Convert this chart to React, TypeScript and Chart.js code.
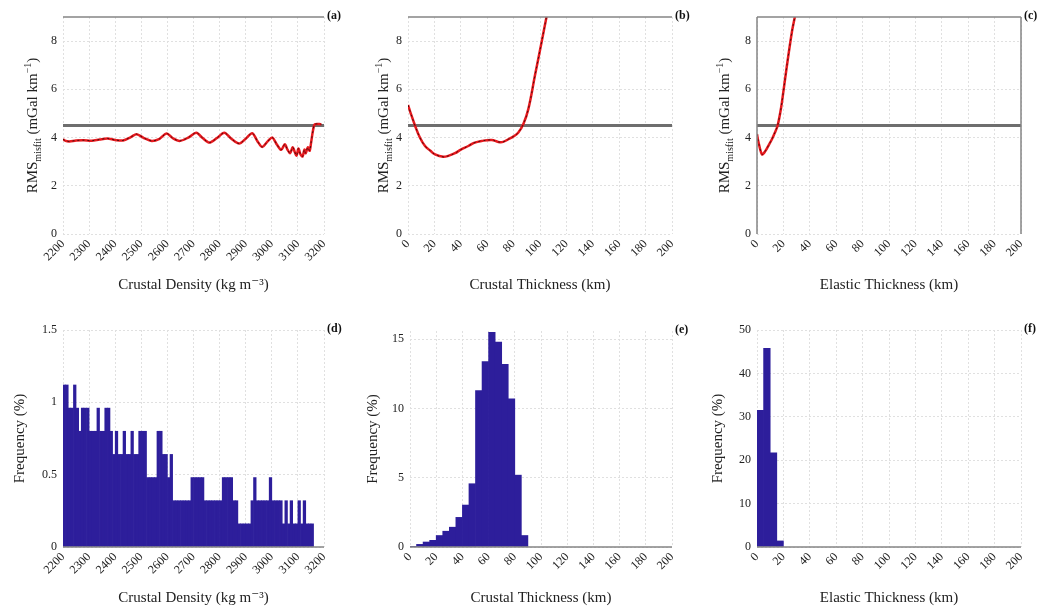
import React, { useEffect, useRef } from 'react';
import { Chart, registerables } from 'chart.js';

Chart.register(...registerables);

const FONT = '"Liberation Serif", "DejaVu Serif", serif';

// ---- tick labels ----
const densityTicks = [2200, 2300, 2400, 2500, 2600, 2700, 2800, 2900, 3000, 3100, 3200];
const thicknessTicks = [0, 20, 40, 60, 80, 100, 120, 140, 160, 180, 200];
const rmsTicks = [0, 2, 4, 6, 8];
const freqTicksD = [0, 0.5, 1, 1.5];
const freqTicksE = [0, 5, 10, 15];
const freqTicksF = [0, 10, 20, 30, 40, 50];

// ---- reference misfit level ----
const refRms = 4.5;

// ---- (a) RMS misfit vs crustal density ----
const densityA = [2200, 2210, 2225, 2250, 2280, 2310, 2340, 2370, 2400, 2430, 2460, 2482, 2510, 2540, 2570, 2597, 2620, 2647, 2680, 2711, 2735, 2761, 2790, 2818, 2845, 2875, 2900, 2925, 2945, 2963, 2985, 3002, 3020, 3036, 3050, 3060, 3070, 3080, 3088, 3095, 3102, 3110, 3118, 3125, 3130, 3138, 3145, 3150, 3158, 3165, 3190];
const rmsA = [3.93, 3.86, 3.84, 3.88, 3.89, 3.87, 3.92, 3.96, 3.9, 3.88, 4.02, 4.14, 3.98, 3.86, 3.95, 4.17, 3.98, 3.86, 4.0, 4.2, 3.98, 3.79, 3.98, 4.2, 3.95, 3.75, 3.95, 4.18, 3.85, 3.61, 3.85, 4.0, 3.7, 3.49, 3.72, 3.5, 3.35, 3.6, 3.4, 3.25, 3.55, 3.3, 3.22, 3.5, 3.35, 3.6, 3.45, 3.75, 4.3, 4.55, 4.55];

// ---- (b) RMS misfit vs crustal thickness ----
const crustB = [0, 1.5, 5.3, 9, 12.9, 17, 20.5, 26.7, 31, 35.6, 40, 45.7, 50, 55.8, 63.4, 68.4, 72, 76, 80, 83.6, 87.4, 91.2, 96.2, 101.3, 105, 108];
const rmsB = [5.35, 5.1, 4.5, 4.0, 3.65, 3.45, 3.3, 3.2, 3.25, 3.35, 3.5, 3.65, 3.78, 3.86, 3.9, 3.82, 3.82, 3.93, 4.05, 4.21, 4.56, 5.19, 6.58, 7.98, 9.02, 9.8];

// ---- (c) RMS misfit vs elastic thickness ----
const elasticC = [0, 1.2, 3.8, 6.3, 9, 11.3, 13.5, 15.6, 17.5, 18.9, 22.7, 26.5, 29, 31];
const rmsC = [4.14, 3.79, 3.3, 3.44, 3.7, 3.93, 4.2, 4.49, 5.0, 5.47, 7.0, 8.4, 9.1, 9.8];

// ---- (d) histogram of crustal density ----
const densityBins = [2205, 2215, 2225, 2235, 2245, 2255, 2265, 2275, 2285, 2295, 2305, 2315, 2325, 2335, 2345, 2355, 2365, 2375, 2385, 2395, 2405, 2415, 2425, 2435, 2445, 2455, 2465, 2475, 2485, 2495, 2505, 2515, 2525, 2535, 2545, 2555, 2565, 2575, 2585, 2595, 2605, 2615, 2625, 2635, 2645, 2655, 2665, 2675, 2685, 2695, 2705, 2715, 2725, 2735, 2745, 2755, 2765, 2775, 2785, 2795, 2805, 2815, 2825, 2835, 2845, 2855, 2865, 2875, 2885, 2895, 2905, 2915, 2925, 2935, 2945, 2955, 2965, 2975, 2985, 2995, 3005, 3015, 3025, 3035, 3045, 3055, 3065, 3075, 3085, 3095, 3105, 3115, 3125, 3135, 3145, 3155];
const freqD = [
  1.12, 1.12, 0.96, 0.96, 1.12, 0.96, 0.8, 0.96, 0.96, 0.96,
  0.8, 0.8, 0.8, 0.96, 0.8, 0.8, 0.96, 0.96, 0.8, 0.64,
  0.8, 0.64, 0.64, 0.8, 0.64, 0.64, 0.8, 0.64, 0.64, 0.8,
  0.8, 0.8, 0.48, 0.48, 0.48, 0.48, 0.8, 0.8, 0.64, 0.64,
  0.48, 0.64, 0.32, 0.32, 0.32, 0.32, 0.32, 0.32, 0.32, 0.48,
  0.48, 0.48, 0.48, 0.48, 0.32, 0.32, 0.32, 0.32, 0.32, 0.32,
  0.32, 0.48, 0.48, 0.48, 0.48, 0.32, 0.32, 0.16, 0.16, 0.16,
  0.16, 0.16, 0.32, 0.48, 0.32, 0.32, 0.32, 0.32, 0.32, 0.48,
  0.32, 0.32, 0.32, 0.32, 0.16, 0.32, 0.16, 0.32, 0.16, 0.16,
  0.32, 0.16, 0.32, 0.16, 0.16, 0.16,
];

// ---- (e) histogram of crustal thickness ----
const crustBins = [2.5, 7.5, 12.5, 17.5, 22.5, 27.5, 32.5, 37.5, 42.5, 47.5, 52.5, 57.5, 62.5, 67.5, 72.5, 77.5, 82.5, 87.5];
const freqE = [0.05, 0.19, 0.36, 0.48, 0.83, 1.14, 1.43, 2.14, 3.03, 4.57, 11.3, 13.4, 15.5, 14.8, 13.2, 10.7, 5.19, 0.83];

// ---- (f) histogram of elastic thickness ----
const elasticBins = [2.5, 7.5, 12.5, 17.5];
const freqF = [31.5, 45.8, 21.7, 1.4];

const RED = '#e8191e';
const BAR = '#2d1e9b';
const GRID = '#e0e0e0';
const TXT = '#222';

const decor = {
  id: 'decor',
  afterDraw(chart: any, _a: any, o: any) {
    const { ctx, chartArea: a } = chart;
    ctx.save();
    ctx.strokeStyle = '#858585';
    ctx.lineWidth = 1.5;
    const seg = (x1: number, y1: number, x2: number, y2: number) => {
      ctx.beginPath();
      ctx.moveTo(x1, y1);
      ctx.lineTo(x2, y2);
      ctx.stroke();
    };
    if (o.top) seg(a.left, a.top, a.right, a.top);
    if (o.left) seg(a.left, a.top, a.left, a.bottom);
    if (o.right) seg(a.right, a.top, a.right, a.bottom);
    if (o.bottom) seg(a.left, a.bottom, a.right, a.bottom);
    ctx.fillStyle = '#111';
    ctx.font = `bold 12px ${FONT}`;
    ctx.textAlign = 'left';
    ctx.textBaseline = 'middle';
    ctx.fillText(o.label, a.right + 3, a.top - 1);
    if (o.rmsX != null) {
      ctx.translate(o.rmsX, (a.top + a.bottom) / 2);
      ctx.rotate(-Math.PI / 2);
      const parts = [
        { t: 'RMS', s: 15, dy: 0 },
        { t: 'misfit', s: 10, dy: 4 },
        { t: ' (mGal km', s: 15, dy: 0 },
        { t: '\u22121', s: 10, dy: -6 },
        { t: ')', s: 15, dy: 0 },
      ];
      let total = 0;
      const ws = parts.map((p) => {
        ctx.font = `${p.s}px ${FONT}`;
        const w = ctx.measureText(p.t).width;
        total += w;
        return w;
      });
      ctx.textBaseline = 'alphabetic';
      ctx.fillStyle = TXT;
      let x = -total / 2;
      parts.forEach((p, i) => {
        ctx.font = `${p.s}px ${FONT}`;
        ctx.fillText(p.t, x, 5 + p.dy);
        x += ws[i];
      });
    }
    ctx.restore();
  },
};

function axisX(ticks: number[], min: number, max: number, title: string, height: number) {
  return {
    type: 'linear',
    min,
    max,
    offset: false,
    afterBuildTicks: (s: any) => {
      s.ticks = ticks.map((v) => ({ value: v }));
    },
    afterFit: (s: any) => {
      s.height = height;
    },
    ticks: {
      autoSkip: false,
      minRotation: 45,
      maxRotation: 45,
      padding: 3,
      color: TXT,
      font: { family: FONT, size: 12 },
      callback: (v: any) => String(v),
    },
    grid: { color: GRID, drawTicks: false, offset: false },
    border: { display: false, dash: [2, 2] },
    title: { display: true, text: title, color: TXT, font: { family: FONT, size: 15 }, padding: 0 },
  };
}

function axisY(ticks: number[], min: number, max: number, title: string | null, width: number) {
  return {
    type: 'linear',
    min,
    max,
    afterBuildTicks: (s: any) => {
      s.ticks = ticks.map((v) => ({ value: v }));
    },
    afterFit: (s: any) => {
      s.width = width;
    },
    ticks: {
      padding: 6,
      color: TXT,
      font: { family: FONT, size: 12 },
      callback: (v: any) => String(v),
    },
    grid: { color: GRID, drawTicks: false },
    border: { display: false, dash: [2, 2] },
    title: { display: !!title, text: title || '', color: TXT, font: { family: FONT, size: 15 }, padding: 0 },
  };
}

function lineConfig(xs: number[], ys: number[], xTicks: number[], xTitle: string, label: string, yWidth: number, rmsX: number, frame: any, tension: number) {
  const xMin = xTicks[0];
  const xMax = xTicks[xTicks.length - 1];
  const pts = xs.map((x, i) => ({ x, y: ys[i] }));
  return {
    type: 'line',
    data: {
      datasets: [
        { data: pts, borderColor: RED, borderWidth: 2.5, pointRadius: 0, tension, order: 1 },
        { data: pts, borderColor: '#4a0d0d', borderWidth: 1, borderDash: [2, 3], pointRadius: 0, tension, order: 0 },
        { data: [{ x: xMin, y: refRms }, { x: xMax, y: refRms }], borderColor: '#6e6e6e', borderWidth: 3, pointRadius: 0, order: 2 },
      ],
    },
    options: {
      animation: false,
      responsive: false,
      layout: { padding: { left: 0, top: 17, right: 24, bottom: 6 } },
      plugins: { legend: { display: false }, tooltip: { enabled: false }, decor: { label, rmsX, ...frame } },
      scales: {
        x: axisX(xTicks, xMin, xMax, xTitle, 60),
        y: axisY(rmsTicks, 0, 9, null, yWidth),
      },
    },
    plugins: [decor],
  };
}

function barConfig(xs: number[], ys: number[], xTicks: number[], yTicks: number[], yMax: number, xTitle: string, label: string, padLeft: number, yWidth: number, padTop: number) {
  const xMin = xTicks[0];
  const xMax = xTicks[xTicks.length - 1];
  return {
    type: 'bar',
    data: {
      datasets: [
        {
          data: xs.map((x, i) => ({ x, y: ys[i] })),
          backgroundColor: BAR,
          borderWidth: 0,
          barPercentage: 1,
          categoryPercentage: 1,
        },
      ],
    },
    options: {
      animation: false,
      responsive: false,
      layout: { padding: { left: padLeft, top: padTop, right: 24, bottom: 6 } },
      plugins: { legend: { display: false }, tooltip: { enabled: false }, decor: { label, bottom: true } },
      scales: {
        x: axisX(xTicks, xMin, xMax, xTitle, 60),
        y: axisY(yTicks, 0, yMax, 'Frequency (%)', yWidth),
      },
    },
    plugins: [decor],
  };
}

function Panel({ make, left, top, width, height }: any) {
  const ref = useRef<HTMLCanvasElement>(null);
  useEffect(() => {
    const chart = new Chart(ref.current as HTMLCanvasElement, make());
    return () => chart.destroy();
  }, []);
  return (
    <canvas
      ref={ref}
      width={width}
      height={height}
      style={{ position: 'absolute', left, top, width, height, display: 'block' }}
    />
  );
}

export default function App() {
  return (
    <div style={{ position: 'absolute', left: 0, top: 0, width: 1045, height: 613, background: '#fff' }}>
      <Panel left={0} top={0} width={348} height={300}
        make={() => lineConfig(densityA, rmsA, densityTicks, 'Crustal Density (kg m\u207B\u00B3)', '(a)', 63, 32, { top: true }, 0.3)} />
      <Panel left={348} top={0} width={348} height={300}
        make={() => lineConfig(crustB, rmsB, thicknessTicks, 'Crustal Thickness (km)', '(b)', 60, 35, { top: true }, 0.4)} />
      <Panel left={696} top={0} width={349} height={300}
        make={() => lineConfig(elasticC, rmsC, thicknessTicks, 'Elastic Thickness (km)', '(c)', 61, 28, { top: true, left: true, right: true }, 0.3)} />
      <Panel left={0} top={300} width={348} height={313}
        make={() => barConfig(densityBins, freqD, densityTicks, freqTicksD, 1.5, 'Crustal Density (kg m\u207B\u00B3)', '(d)', 11, 52, 30)} />
      <Panel left={348} top={300} width={348} height={313}
        make={() => barConfig(crustBins, freqE, thicknessTicks, freqTicksE, 15.6, 'Crustal Thickness (km)', '(e)', 16, 46, 31)} />
      <Panel left={696} top={300} width={349} height={313}
        make={() => barConfig(elasticBins, freqF, thicknessTicks, freqTicksF, 50, 'Elastic Thickness (km)', '(f)', 13, 48, 30)} />
    </div>
  );
}
